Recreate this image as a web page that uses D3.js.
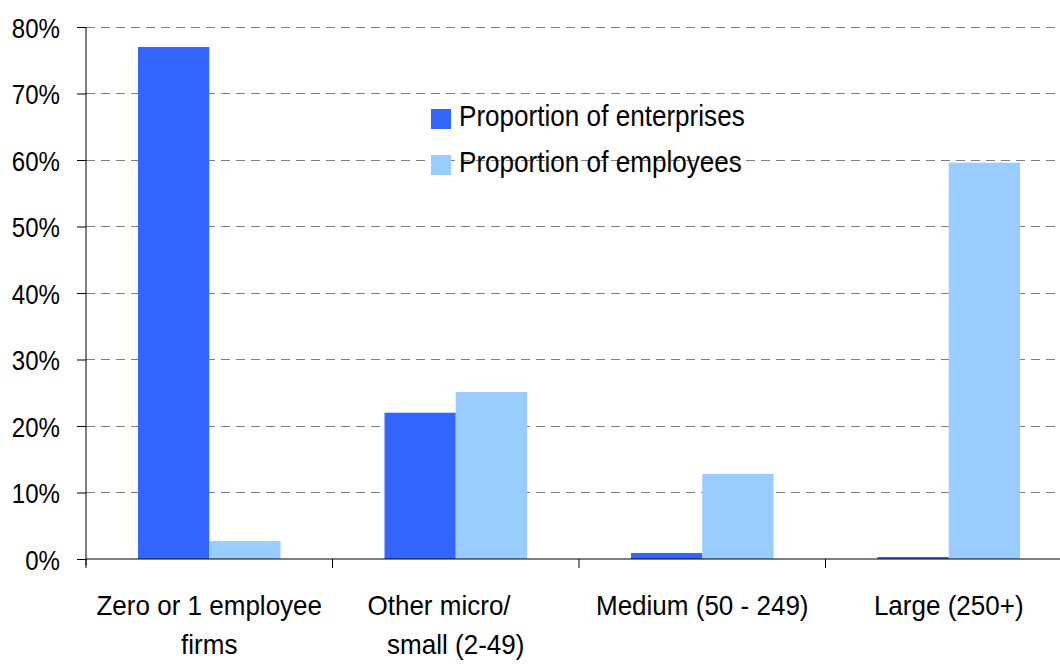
<!DOCTYPE html>
<html>
<head>
<meta charset="utf-8">
<script src="https://cdn.jsdelivr.net/npm/d3@7"></script>
<style>
  html, body { margin: 0; padding: 0; background: #fff; }
  svg { display: block; font-family: "Liberation Sans", Arial, sans-serif; }
</style>
</head>
<body>
<svg id="chart" width="1060" height="664"></svg>
<script>
const categories = [["Zero or 1 employee", "firms"], ["Other micro/", "small (2-49)"], ["Medium (50 - 249)"], ["Large (250+)"]];
const seriesNames = ["Proportion of enterprises", "Proportion of employees"];
const enterprises = [0.770, 0.220, 0.009, 0.003];
const employees = [0.027, 0.251, 0.128, 0.596];
const yTicks = [0, 0.1, 0.2, 0.3, 0.4, 0.5, 0.6, 0.7, 0.8];
const colors = ["#3366FF", "#99CCFF"];

(function () {
const svg = d3.select("#chart");
const mLeft = 86, mRight = 1072, mTop = 27, mBottom = 559;

const x = d3.scaleBand().domain(d3.range(categories.length)).range([mLeft, mRight]).paddingInner(0).paddingOuter(0);
const xs = d3.scaleBand().domain([0, 1]).range([0, x.bandwidth()]).paddingInner(0).paddingOuter(0.73);
const y = d3.scaleLinear().domain([0, 0.8]).range([mBottom, mTop]);

// gridlines
svg.append("g").selectAll("line").data(yTicks.filter(d => d > 0)).join("line")
  .attr("x1", mLeft).attr("x2", 1060)
  .attr("y1", d => y(d)).attr("y2", d => y(d))
  .attr("stroke", "#808080").attr("stroke-width", 1).attr("stroke-dasharray", "9,6")
  .attr("shape-rendering", "crispEdges");

// bars
const data = categories.map((c, i) => [enterprises[i], employees[i]]);
const groups = svg.append("g").selectAll("g").data(data).join("g")
  .attr("transform", (d, i) => `translate(${x(i)},0)`);
groups.selectAll("rect").data(d => d.map((v, j) => ({v, j}))).join("rect")
  .attr("x", d => xs(d.j)).attr("width", xs.bandwidth())
  .attr("y", d => y(d.v)).attr("height", d => mBottom - y(d.v))
  .attr("fill", d => colors[d.j]);

// y axis
const yAxis = svg.append("g").attr("transform", `translate(${mLeft},0)`)
  .call(d3.axisLeft(y).tickValues(yTicks).tickSize(9).tickPadding(0).tickFormat(d3.format(".0%")));
yAxis.select(".domain").attr("stroke", "#000").attr("d", `M0,${mTop}V${mBottom + 6}`);
yAxis.selectAll(".tick line").attr("stroke", "#000");
yAxis.selectAll(".tick text").remove();
yAxis.selectAll(".tick").append("g").attr("transform", "translate(-26,0) scale(0.86,1)")
  .append("text").attr("text-anchor", "end").attr("dy", "0.36em")
  .attr("font-size", 28).attr("fill", "#000").text(d => d3.format(".0%")(d));

// x axis
const xAxis = svg.append("g").attr("transform", `translate(0,${mBottom})`);
xAxis.append("line").attr("x1", mLeft).attr("x2", 1060).attr("y1", 0).attr("y2", 0).attr("stroke", "#000");
xAxis.selectAll(".tk").data(d3.range(categories.length + 1)).join("line").attr("class", "tk")
  .attr("x1", i => mLeft + i * x.bandwidth()).attr("x2", i => mLeft + i * x.bandwidth())
  .attr("y1", 0).attr("y2", 9).attr("stroke", "#000");
const xl = xAxis.selectAll(".lab").data(categories).join("g").attr("class", "lab")
  .attr("transform", (d, i) => `translate(${x(i) + x.bandwidth() / 2},56) scale(0.93,1)`);
xl.selectAll("text").data(d => d).join("text")
  .attr("text-anchor", "middle").attr("y", (d, k) => k * 39)
  // line ending in "/" was wrapped after a trailing space, which shifts it left
  .attr("dx", d => d.endsWith("/") ? -18 : 0)
  .attr("font-size", 28).attr("fill", "#000").text(d => d);

// legend
const lg = svg.append("g").attr("transform", "translate(431,109)");
const li = lg.selectAll("g").data(seriesNames).join("g").attr("transform", (d, i) => `translate(0,${i * 46})`);
li.append("rect").attr("width", 20).attr("height", 20).attr("fill", (d, i) => colors[i]);
li.append("g").attr("transform", "translate(28,17) scale(0.9,1)")
  .append("text").attr("font-size", 29).attr("fill", "#000").text(d => d);
})();
</script>
</body>
</html>
